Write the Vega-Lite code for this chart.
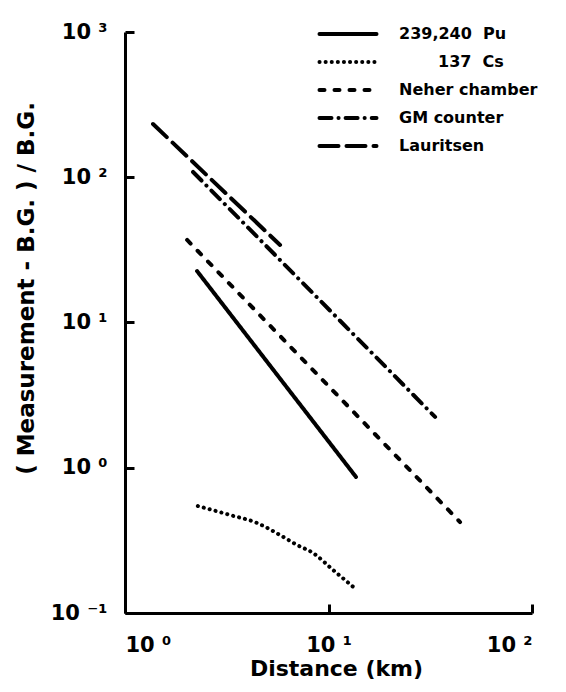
{
  "$schema": "https://vega.github.io/schema/vega-lite/v6.json",
  "width": 407,
  "height": 581,
  "autosize": {"type": "none"},
  "padding": {"left": 125, "top": 32, "right": 34, "bottom": 79},
  "background": "white",
  "config": {"view": {"stroke": null}, "font": "DejaVu Sans"},
  "data": {
    "values": [
      {"series": "239,240\u00a0\u00a0Pu", "i": 0, "distance": 2.26, "ratio": 22.6},
      {"series": "239,240\u00a0\u00a0Pu", "i": 1, "distance": 13.65, "ratio": 0.864},
      {"series": "\u200b\u00a0\u00a0\u00a0\u00a0\u00a0\u00a0\u00a0137\u00a0\u00a0Cs", "i": 0, "distance": 2.28, "ratio": 0.545},
      {"series": "\u200b\u00a0\u00a0\u00a0\u00a0\u00a0\u00a0\u00a0137\u00a0\u00a0Cs", "i": 1, "distance": 3.28, "ratio": 0.473},
      {"series": "\u200b\u00a0\u00a0\u00a0\u00a0\u00a0\u00a0\u00a0137\u00a0\u00a0Cs", "i": 2, "distance": 4.45, "ratio": 0.417},
      {"series": "\u200b\u00a0\u00a0\u00a0\u00a0\u00a0\u00a0\u00a0137\u00a0\u00a0Cs", "i": 3, "distance": 5.78, "ratio": 0.344},
      {"series": "\u200b\u00a0\u00a0\u00a0\u00a0\u00a0\u00a0\u00a0137\u00a0\u00a0Cs", "i": 4, "distance": 7.0, "ratio": 0.294},
      {"series": "\u200b\u00a0\u00a0\u00a0\u00a0\u00a0\u00a0\u00a0137\u00a0\u00a0Cs", "i": 5, "distance": 8.39, "ratio": 0.259},
      {"series": "\u200b\u00a0\u00a0\u00a0\u00a0\u00a0\u00a0\u00a0137\u00a0\u00a0Cs", "i": 6, "distance": 10.52, "ratio": 0.198},
      {"series": "\u200b\u00a0\u00a0\u00a0\u00a0\u00a0\u00a0\u00a0137\u00a0\u00a0Cs", "i": 7, "distance": 13.8, "ratio": 0.144},
      {"series": "Neher chamber", "i": 0, "distance": 2.02, "ratio": 37.0},
      {"series": "Neher chamber", "i": 1, "distance": 44.3, "ratio": 0.423},
      {"series": "GM counter", "i": 0, "distance": 2.16, "ratio": 108.7},
      {"series": "GM counter", "i": 1, "distance": 33.4, "ratio": 2.24},
      {"series": "Lauritsen", "i": 0, "distance": 1.373, "ratio": 232.6},
      {"series": "Lauritsen", "i": 1, "distance": 5.78, "ratio": 34.2}
    ]
  },
  "mark": {"type": "line", "strokeWidth": 4, "strokeCap": "round", "color": "black", "interpolate": "monotone"},
  "encoding": {
    "x": {
      "field": "distance", "type": "quantitative",
      "scale": {"type": "log", "domain": [1, 100]},
      "axis": {
        "values": [1, 10, 100],
        "labelExpr": "datum.value == 1 ? '10 ⁰' : datum.value == 10 ? '10 ¹' : '10 ²'",
        "grid": false, "domainColor": "black", "domainWidth": 3, "tickColor": "black", "tickWidth": 3, "tickSize": -9,
        "labelFontSize": 21, "labelFontWeight": "bold", "labelColor": "black", "labelPadding": 30, "labelDx": 8,
        "title": "Distance (km)", "titleFontSize": 22, "titleFontWeight": "bold", "titleColor": "black", "titlePadding": 3, "titleX": 211
      }
    },
    "y": {
      "field": "ratio", "type": "quantitative",
      "scale": {"type": "log", "domain": [0.1, 1000]},
      "axis": {
        "values": [0.1, 1, 10, 100, 1000],
        "labelExpr": "datum.value < 0.5 ? '10 ⁻¹' : datum.value < 5 ? '10 ⁰' : datum.value < 50 ? '10 ¹' : datum.value < 500 ? '10 ²' : '10 ³'",
        "grid": false, "domainColor": "black", "domainWidth": 3, "tickColor": "black", "tickWidth": 3, "tickSize": -9,
        "labelFontSize": 21, "labelFontWeight": "bold", "labelColor": "black", "labelPadding": 27,
        "title": "( Measurement - B.G. ) / B.G.", "titleFontSize": 23, "titleFontWeight": "bold", "titleColor": "black", "titlePadding": 12, "titleY": 256
      }
    },
    "strokeDash": {
      "field": "series", "type": "nominal",
      "scale": {
        "domain": ["239,240\u00a0\u00a0Pu", "\u200b\u00a0\u00a0\u00a0\u00a0\u00a0\u00a0\u00a0137\u00a0\u00a0Cs", "Neher chamber", "GM counter", "Lauritsen"],
        "range": [[1, 0], [0.1, 6], [5, 10], [12, 7, 0.1, 7], [19, 8]]
      },
      "legend": {
        "orient": "none", "legendX": 215, "legendY": -6, "title": null,
        "symbolType": "M-5,0L5,0", "symbolSize": 130, "symbolStrokeWidth": 4, "symbolStrokeColor": "black",
        "labelFontSize": 16, "labelFontWeight": "bold", "labelColor": "black", "labelOffset": 43, "rowPadding": 12,
        "encode": {"symbols": {"update": {"strokeCap": {"value": "round"}}}}
      }
    },
    "order": {"field": "i", "type": "quantitative"}
  }
}
